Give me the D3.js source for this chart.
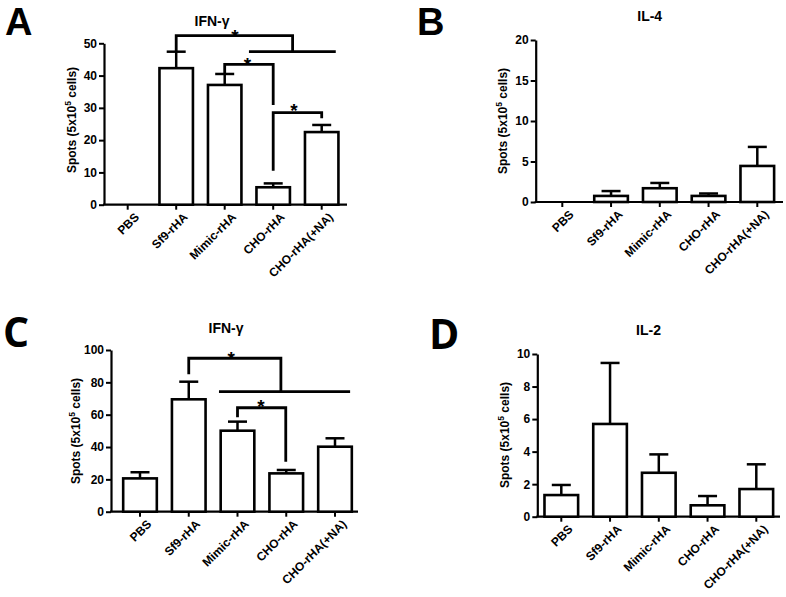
<!DOCTYPE html>
<html><head><meta charset="utf-8">
<script src="https://cdn.jsdelivr.net/npm/d3@7"></script>
<style>
body{margin:0;background:#fff;}
svg{display:block;}
text{font-family:"Liberation Sans",Arial,sans-serif;font-weight:bold;fill:#000;}
</style></head>
<body><svg id="c" width="786" height="597"></svg>
<script>
const categories = ["PBS","Sf9-rHA","Mimic-rHA","CHO-rHA","CHO-rHA(+NA)"];

// Panel A: IFN-γ
const meanA = [0, 42.3, 37.1, 5.4, 22.5];
const errA  = [0, 47.4, 40.5, 6.6, 24.7];
const ticksA = [0,10,20,30,40,50];
// Panel B: IL-4
const meanB = [0, 0.75, 1.7, 0.75, 4.45];
const errB  = [0, 1.35, 2.35, 1.05, 6.8];
const ticksB = [0,5,10,15,20];
// Panel C: IFN-γ
const meanC = [20.6, 69.5, 50.1, 23.7, 40.2];
const errC  = [24.4, 80.4, 55.7, 25.8, 45.4];
const ticksC = [0,20,40,60,80,100];
// Panel D: IL-2
const meanD = [1.33, 5.7, 2.7, 0.7, 1.7];
const errD  = [1.95, 9.45, 3.83, 1.27, 3.22];
const ticksD = [0,2,4,6,8,10];

// significance brackets: polylines in (category index, value) units
const bracketsA = [
  {pts:[[1,47.6],[1,52.35],[3.4,52.35],[3.4,47.4]]},
  {pts:[[2.5,47.4],[4.29,47.4]]},
  {pts:[[2,40.7],[2,43.5],[3,43.5],[3,30.9]]},
  {pts:[[3,10.5],[3,28.5],[4,28.5],[4,26.8]]}
];
const starsA = [[2.21,53.3],[2.47,44.5],[3.43,30.2]];
const bracketsC = [
  {pts:[[1,85],[1,94.9],[2.89,94.9],[2.89,74.2]]},
  {pts:[[1.62,74.2],[4.31,74.2]]},
  {pts:[[2,58.4],[2,64.3],[2.99,64.3],[2.99,30.9]]}
];
const starsC = [[1.87,96.9],[2.48,67.2]];

const panels = [
  {letter:"A", lfont:'"Liberation Sans",Arial,sans-serif', lx:5, ly:35, lsize:38,
   title:"IFN-γ", tx:212, ty:26,
   mean:meanA, err:errA, ticks:ticksA, max:50,
   axX:104, axEnd:347, y0:204.7, yTop:43.3, c0:127.7, step:48.5,
   ylabX:76, ylabY:120, brackets:bracketsA, stars:starsA},
  {letter:"B", lfont:'"Liberation Sans",Arial,sans-serif', lx:417, ly:35, lsize:38,
   title:"IL-4", tx:649.7, ty:21,
   mean:meanB, err:errB, ticks:ticksB, max:20,
   axX:535.7, axEnd:783, y0:202, yTop:40, c0:562.3, step:48.75,
   ylabX:507, ylabY:121, brackets:[], stars:[]},
  {letter:"C", lfont:'"Open Sans",sans-serif', lx:3, ly:346.5, lsize:41,
   title:"IFN-γ", tx:226, ty:333,
   mean:meanC, err:errC, ticks:ticksC, max:100,
   axX:111, axEnd:358, y0:511.7, yTop:350, c0:140, step:48.75,
   ylabX:80, ylabY:431, brackets:bracketsC, stars:starsC},
  {letter:"D", lfont:'"Open Sans",sans-serif', lx:429, ly:349, lsize:41,
   title:"IL-2", tx:648.5, ty:335,
   mean:meanD, err:errD, ticks:ticksD, max:10,
   axX:537.3, axEnd:780, y0:516.7, yTop:354, c0:561.3, step:48.75,
   ylabX:509, ylabY:435, brackets:[], stars:[]}
];

const svg = d3.select("#c");
const FF = '"Liberation Sans",Arial,sans-serif';

panels.forEach(p => {
  const g = svg.append("g");
  const n = categories.length;
  const x = d3.scaleBand().domain(categories)
    .range([p.c0 - p.step/2, p.c0 - p.step/2 + p.step*n])
    .paddingInner(0.31).paddingOuter(0.155);
  const cx = c => x(c) + x.bandwidth()/2;
  const xi = i => p.c0 + i*p.step; // fractional index position
  const y = d3.scaleLinear().domain([0,p.max]).range([p.y0,p.yTop]);

  // panel letter
  g.append("text").attr("x",p.lx).attr("y",p.ly)
    .style("font-family",p.lfont).style("font-size",p.lsize+"px").style("font-weight","bold")
    .text(p.letter);
  // title
  g.append("text").attr("x",p.tx).attr("y",p.ty).attr("text-anchor","middle")
    .style("font-family",FF).style("font-size","14px").text(p.title);

  // y axis
  const yAxis = d3.axisLeft(y).tickValues(p.ticks).tickSize(5).tickSizeOuter(0).tickPadding(2);
  const ya = g.append("g").attr("transform",`translate(${p.axX},0)`).call(yAxis);
  ya.select(".domain").attr("stroke","#000").attr("stroke-width",2.2);
  ya.selectAll(".tick line").attr("stroke","#000").attr("stroke-width",2);
  ya.selectAll(".tick text").style("font-size","12px").style("font-family",FF).style("font-weight","bold").attr("fill","#000");

  // x axis
  const xAxis = d3.axisBottom(x).tickSize(5).tickSizeOuter(0).tickPadding(3);
  const xa = g.append("g").attr("transform",`translate(0,${p.y0})`).call(xAxis);
  xa.select(".domain").remove();
  g.append("line").attr("x1",p.axX-1).attr("x2",p.axEnd).attr("y1",p.y0).attr("y2",p.y0)
    .attr("stroke","#000").attr("stroke-width",2.2);
  xa.selectAll(".tick line").attr("stroke","#000").attr("stroke-width",2);
  xa.selectAll(".tick text")
    .style("font-size","12px").style("font-family",FF).style("font-weight","bold").attr("fill","#000")
    .attr("text-anchor","end")
    .attr("transform","translate(5,6) rotate(-45)")
    .attr("dy","0.35em").attr("y",6);

  // y label
  const yl = g.append("text").attr("transform",`translate(${p.ylabX},${p.ylabY}) rotate(-90)`)
    .attr("text-anchor","middle").style("font-family",FF).style("font-size","12px");
  yl.append("tspan").text("Spots (5x10");
  yl.append("tspan").attr("dy","-5").style("font-size","8.5px").text("5");
  yl.append("tspan").attr("dy","5").text(" cells)");

  // bars
  const data = categories.map((c,i)=>({c, m:p.mean[i], e:p.err[i]}));
  const bw = x.bandwidth();
  g.selectAll("line.err").data(data.filter(d=>d.e>d.m)).enter().append("line")
    .attr("x1",d=>cx(d.c)).attr("x2",d=>cx(d.c))
    .attr("y1",d=>y(d.m)).attr("y2",d=>y(d.e))
    .attr("stroke","#000").attr("stroke-width",2.5);
  g.selectAll("line.cap").data(data.filter(d=>d.e>d.m)).enter().append("line")
    .attr("x1",d=>cx(d.c)-9.5).attr("x2",d=>cx(d.c)+9.5)
    .attr("y1",d=>y(d.e)).attr("y2",d=>y(d.e))
    .attr("stroke","#000").attr("stroke-width",2.5);
  g.selectAll("rect.bar").data(data.filter(d=>d.m>0)).enter().append("rect")
    .attr("x",d=>x(d.c)).attr("width",bw)
    .attr("y",d=>y(d.m)).attr("height",d=>p.y0-y(d.m))
    .attr("fill","#fff").attr("stroke","#000").attr("stroke-width",2.6);

  // brackets
  const line = d3.line().x(d=>xi(d[0])).y(d=>y(d[1]));
  p.brackets.forEach(b=>{
    g.append("path").attr("d",line(b.pts)).attr("fill","none")
      .attr("stroke","#000").attr("stroke-width",2.8).attr("stroke-linejoin","miter");
  });
  p.stars.forEach(s=>{
    g.append("text").attr("x",xi(s[0])).attr("y",y(s[1])+10).attr("text-anchor","middle")
      .style("font-family",FF).style("font-size","19px").text("*");
  });
});
</script></body></html>
